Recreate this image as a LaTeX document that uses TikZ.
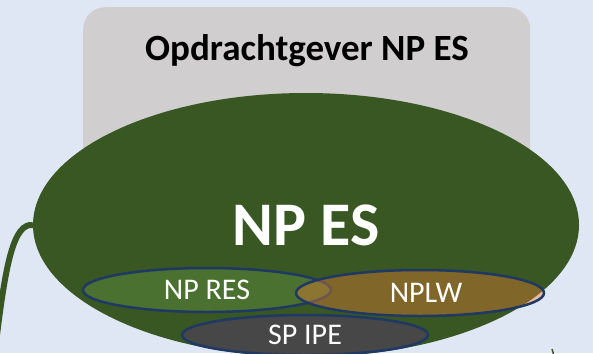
\documentclass[tikz,border=0pt]{standalone}
\usepackage{fontspec}
\setmainfont{Carlito}
\usetikzlibrary{shapes.geometric}
\definecolor{bgblue}{HTML}{DFE7F4}
\definecolor{boxgrey}{HTML}{D0CECE}
\definecolor{esgreen}{HTML}{385723}
\definecolor{resgreen}{HTML}{4A7130}
\definecolor{lworange}{HTML}{ED7D31}
\definecolor{ipegrey}{HTML}{474747}
\definecolor{navy}{HTML}{1F3864}
\begin{document}
\begin{tikzpicture}[x=1pt,y=-1pt,
  sub/.style={ellipse, draw=navy, line width=2.5pt, inner sep=0pt, text=white,
    font=\fontsize{30}{30}\selectfont}]
\useasboundingbox (0,0) rectangle (593,353);
\clip (0,0) rectangle (593,353);
\fill[bgblue] (0,0) rectangle (593,353);
\node[fill=boxgrey, rounded corners=22pt, minimum width=447pt, minimum height=240pt,
  anchor=north west, inner sep=0pt] (box) at (83,7) {};
\node[font=\bfseries\fontsize{37}{37}\selectfont, anchor=base, inner sep=0pt] (title) at (307,60) {Opdrachtgever NP ES};
\coordinate (tail) at (-3,335);
\node[ellipse, fill=esgreen, minimum width=546pt, minimum height=264pt, inner sep=0pt,
  text=white, font=\bfseries\fontsize{62}{62}\selectfont] (npes) at (306,225) {NP ES};
\draw[esgreen, line width=6pt] (npes.west) .. controls (14,223) and (6,262) .. (tail);
\node[sub, fill=resgreen, minimum width=248pt, minimum height=44pt] (res) at (207,290) {NP RES};
\node[sub, fill=lworange, fill opacity=0.4, text opacity=1, minimum width=248pt,
  minimum height=46pt] (lw) at (420,293) {\hspace*{12pt}NPLW};
\node[sub, fill=ipegrey, minimum width=246pt, minimum height=40pt] (ipe) at (305,335) {SP IPE};
\coordinate (m1) at (552,349);
\coordinate (m2) at (553.5,354);
\draw[esgreen, line width=1.5pt] (m1) -- (m2);
\end{tikzpicture}
\end{document}
